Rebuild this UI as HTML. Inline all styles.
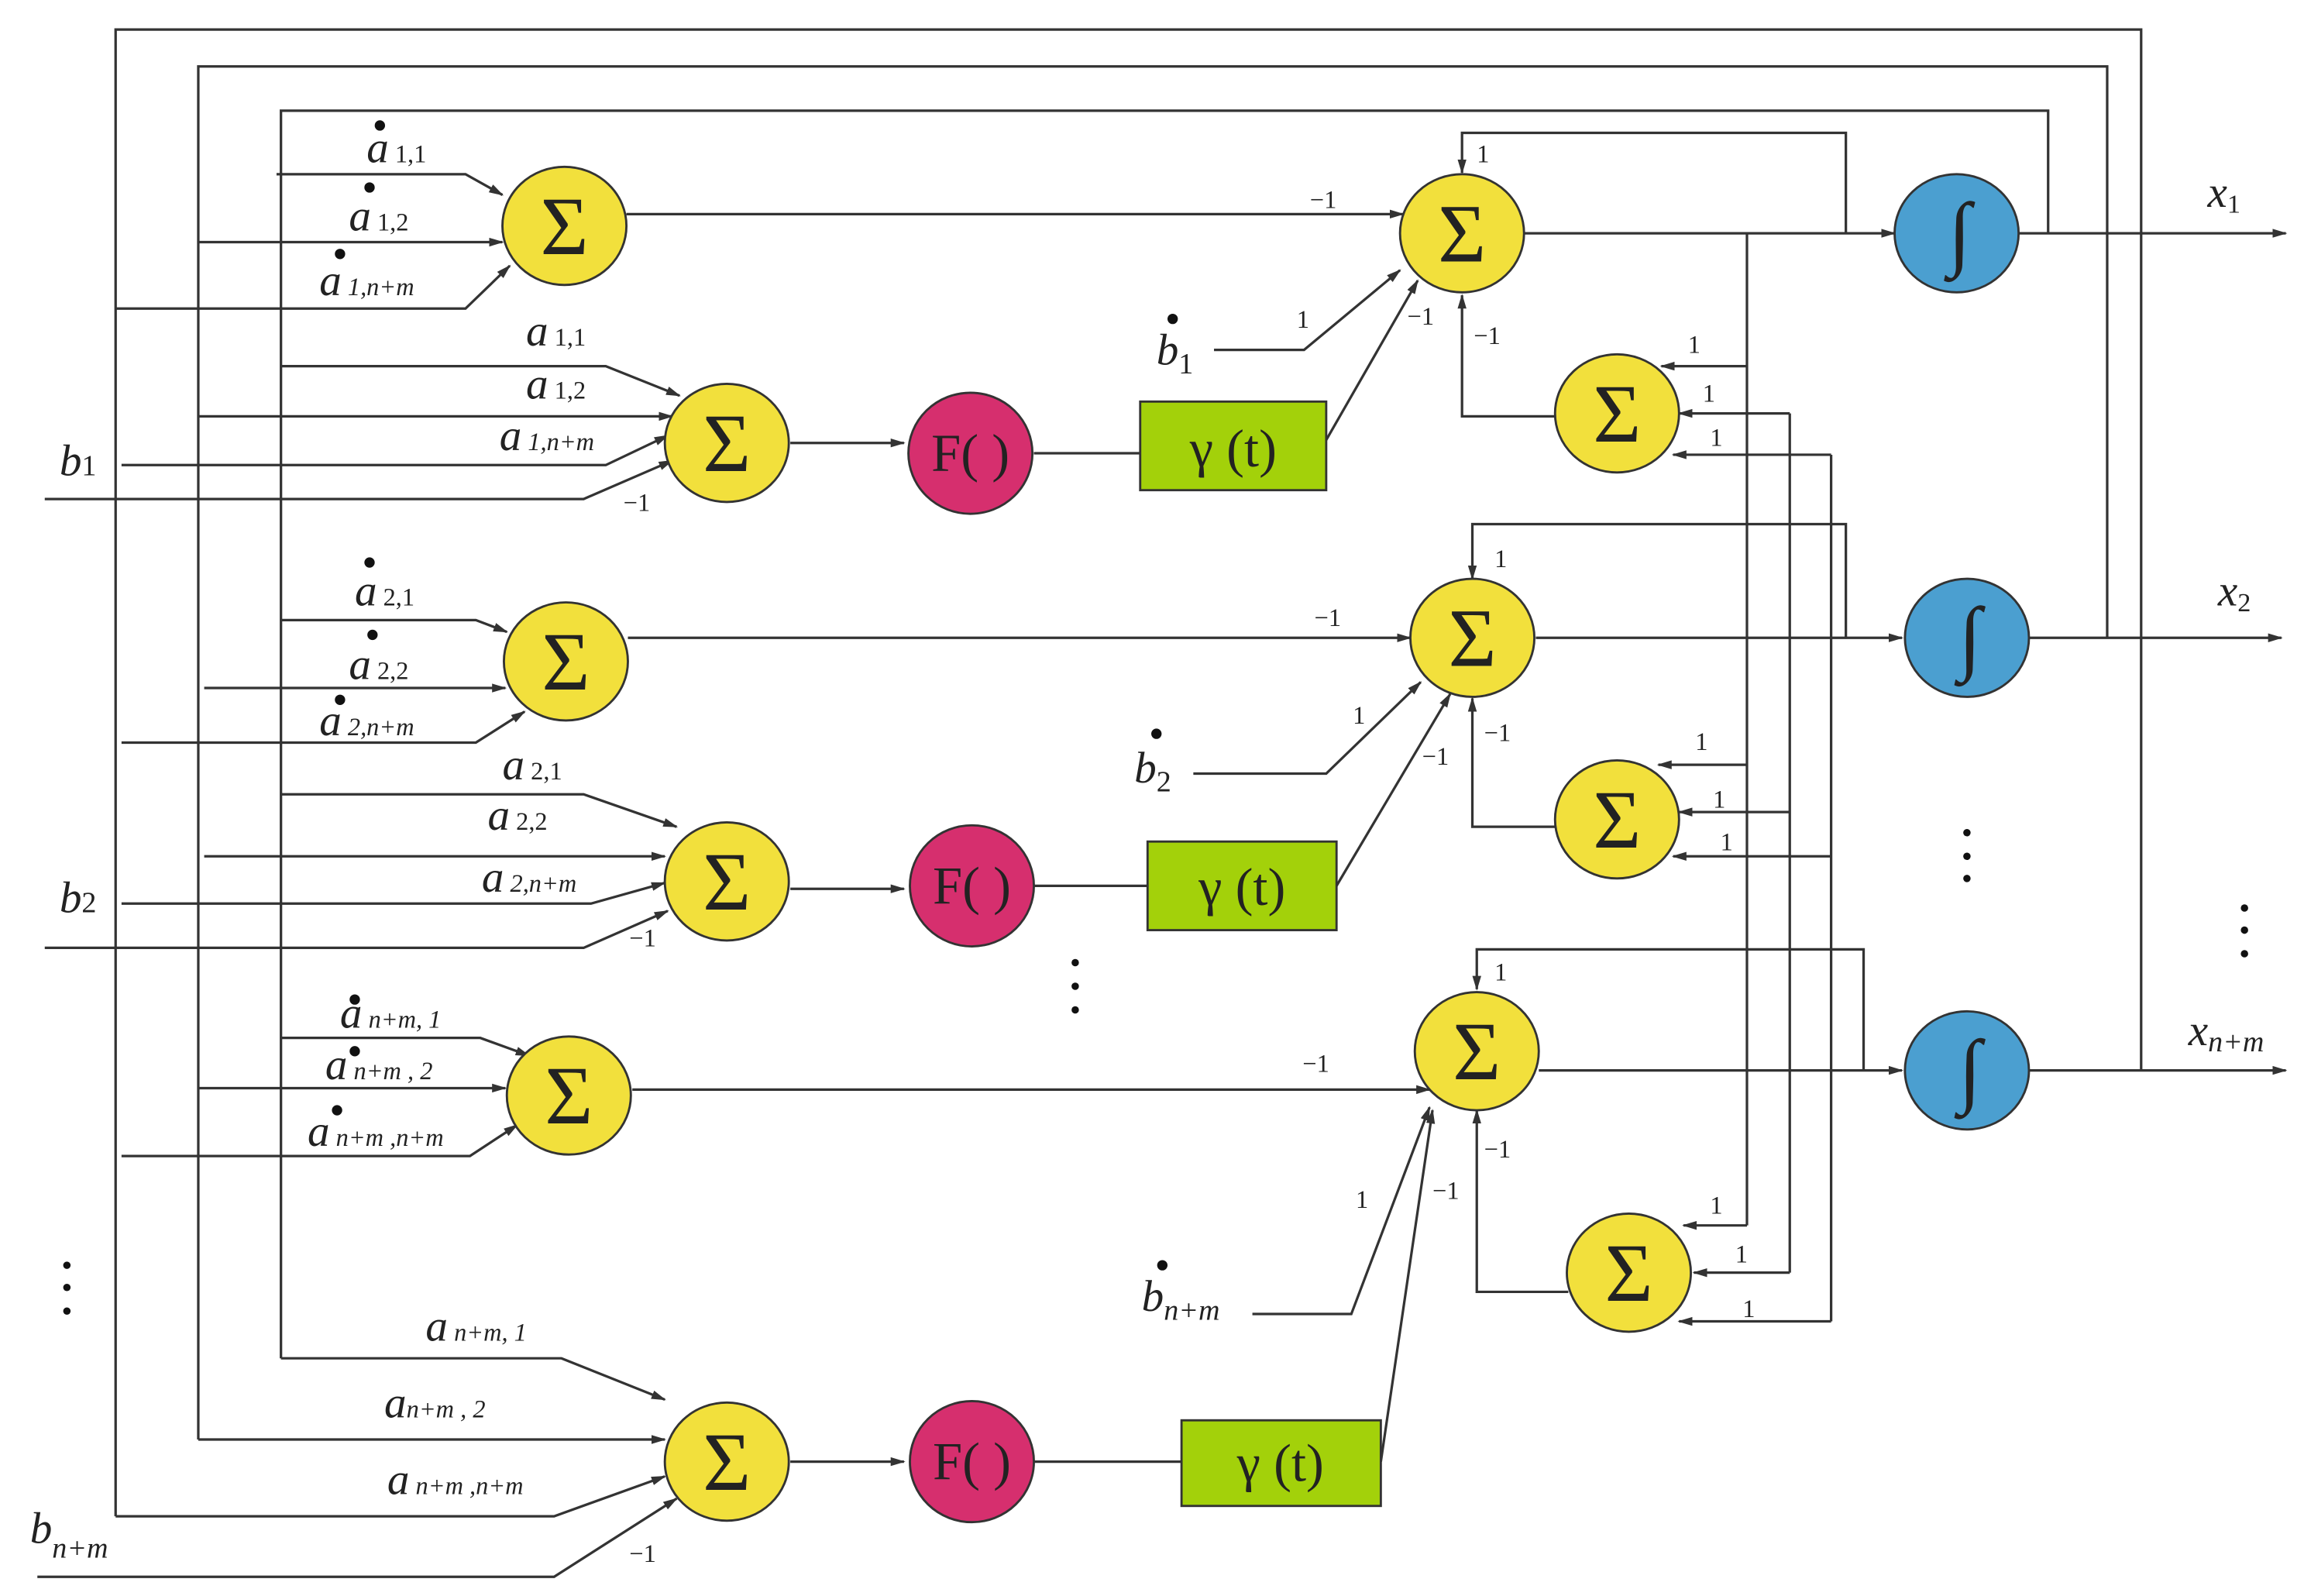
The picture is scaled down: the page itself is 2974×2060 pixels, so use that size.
<!DOCTYPE html>
<html><head><meta charset="utf-8"><style>
html,body{margin:0;padding:0;background:#fff}
svg{display:block}
text{font-family:"Liberation Serif",serif;fill:#222}
.i{font-style:italic}
</style></head><body>
<svg width="2974" height="2060" viewBox="0 0 1560 1081" xmlns="http://www.w3.org/2000/svg">
<defs><marker id="a" markerWidth="10" markerHeight="8" refX="9" refY="4" orient="auto" markerUnits="userSpaceOnUse"><path d="M0,1 L10,4 L0,7 Z" fill="#333"/></marker></defs>
<g fill="none" stroke="#333" stroke-width="1.7">
<!-- buses -->
<polyline points="78,1027 78,20 1450,20 1450,725"/>
<polyline points="134,975 134,45 1427,45 1427,432"/>
<polyline points="190,920 190,75 1387,75 1387,158"/>
<!-- row1 dot sum -->
<polyline points="187,118 315,118 340,132" marker-end="url(#a)"/>
<line x1="134" y1="164" x2="340" y2="164" marker-end="url(#a)"/>
<polyline points="78,209 315,209 345,180" marker-end="url(#a)"/>
<line x1="424" y1="145" x2="950" y2="145" marker-end="url(#a)"/>
<!-- row1 sum -->
<polyline points="190,248 410,248 460,268" marker-end="url(#a)"/>
<line x1="134" y1="282" x2="455" y2="282" marker-end="url(#a)"/>
<polyline points="82,315 410,315 452,295" marker-end="url(#a)"/>
<polyline points="30,338 395,338 455,312" marker-end="url(#a)"/>
<line x1="535" y1="300" x2="612" y2="300" marker-end="url(#a)"/>
<line x1="700" y1="307" x2="772" y2="307"/>
<line x1="898" y1="298" x2="960" y2="190" marker-end="url(#a)"/>
<polyline points="822,237 883,237 948,183" marker-end="url(#a)"/>
<line x1="1032" y1="158" x2="1283" y2="158" marker-end="url(#a)"/>
<line x1="1367" y1="158" x2="1548" y2="158" marker-end="url(#a)"/>
<polyline points="1250,158 1250,90 990,90 990,117" marker-end="url(#a)"/>
<polyline points="1053,282 990,282 990,200" marker-end="url(#a)"/>
<line x1="1183" y1="158" x2="1183" y2="830"/>
<line x1="1212" y1="280" x2="1212" y2="862"/>
<line x1="1240" y1="308" x2="1240" y2="895"/>
<line x1="1183" y1="248" x2="1125" y2="248" marker-end="url(#a)"/>
<line x1="1212" y1="280" x2="1137" y2="280" marker-end="url(#a)"/>
<line x1="1240" y1="308" x2="1133" y2="308" marker-end="url(#a)"/>
<!-- row2 dot sum -->
<polyline points="190,420 322,420 343,428" marker-end="url(#a)"/>
<line x1="138" y1="466" x2="342" y2="466" marker-end="url(#a)"/>
<polyline points="82,503 322,503 355,482" marker-end="url(#a)"/>
<line x1="425" y1="432" x2="955" y2="432" marker-end="url(#a)"/>
<!-- row2 sum -->
<polyline points="190,538 395,538 458,560" marker-end="url(#a)"/>
<line x1="138" y1="580" x2="450" y2="580" marker-end="url(#a)"/>
<polyline points="82,612 400,612 450,598" marker-end="url(#a)"/>
<polyline points="30,642 395,642 452,617" marker-end="url(#a)"/>
<line x1="535" y1="602" x2="612" y2="602" marker-end="url(#a)"/>
<line x1="700" y1="600" x2="777" y2="600"/>
<line x1="905" y1="600" x2="982" y2="470" marker-end="url(#a)"/>
<polyline points="808,524 898,524 962,462" marker-end="url(#a)"/>
<line x1="1040" y1="432" x2="1288" y2="432" marker-end="url(#a)"/>
<line x1="1374" y1="432" x2="1545" y2="432" marker-end="url(#a)"/>
<polyline points="1250,432 1250,355 997,355 997,392" marker-end="url(#a)"/>
<polyline points="1053,560 997,560 997,473" marker-end="url(#a)"/>
<line x1="1183" y1="518" x2="1123" y2="518" marker-end="url(#a)"/>
<line x1="1212" y1="550" x2="1137" y2="550" marker-end="url(#a)"/>
<line x1="1240" y1="580" x2="1133" y2="580" marker-end="url(#a)"/>
<!-- row3 dot sum -->
<polyline points="190,703 325,703 358,715" marker-end="url(#a)"/>
<line x1="134" y1="737" x2="342" y2="737" marker-end="url(#a)"/>
<polyline points="82,783 318,783 350,762" marker-end="url(#a)"/>
<line x1="428" y1="738" x2="968" y2="738" marker-end="url(#a)"/>
<line x1="1042" y1="725" x2="1288" y2="725" marker-end="url(#a)"/>
<line x1="1374" y1="725" x2="1548" y2="725" marker-end="url(#a)"/>
<polyline points="1262,725 1262,643 1000,643 1000,670" marker-end="url(#a)"/>
<polyline points="1062,875 1000,875 1000,752" marker-end="url(#a)"/>
<line x1="1183" y1="830" x2="1140" y2="830" marker-end="url(#a)"/>
<line x1="1212" y1="862" x2="1147" y2="862" marker-end="url(#a)"/>
<line x1="1240" y1="895" x2="1137" y2="895" marker-end="url(#a)"/>
<polyline points="848,890 915,890 968,750" marker-end="url(#a)"/>
<!-- bottom sum -->
<polyline points="190,920 380,920 450,948" marker-end="url(#a)"/>
<line x1="134" y1="975" x2="450" y2="975" marker-end="url(#a)"/>
<polyline points="78,1027 375,1027 450,1000" marker-end="url(#a)"/>
<polyline points="25,1068 375,1068 458,1015" marker-end="url(#a)"/>
<line x1="535" y1="990" x2="612" y2="990" marker-end="url(#a)"/>
<line x1="700" y1="990" x2="800" y2="990"/>
<line x1="935" y1="990" x2="970" y2="752" marker-end="url(#a)"/>
</g>
<!-- nodes -->
<g stroke="#333" stroke-width="1.5">
<g fill="#f2e03c">
<ellipse cx="382" cy="153" rx="42" ry="40"/><ellipse cx="492" cy="300" rx="42" ry="40"/>
<ellipse cx="383" cy="448" rx="42" ry="40"/><ellipse cx="492" cy="597" rx="42" ry="40"/>
<ellipse cx="385" cy="742" rx="42" ry="40"/><ellipse cx="492" cy="990" rx="42" ry="40"/>
<ellipse cx="990" cy="158" rx="42" ry="40"/><ellipse cx="997" cy="432" rx="42" ry="40"/><ellipse cx="1000" cy="712" rx="42" ry="40"/>
<ellipse cx="1095" cy="280" rx="42" ry="40"/><ellipse cx="1095" cy="555" rx="42" ry="40"/><ellipse cx="1103" cy="862" rx="42" ry="40"/>
</g>
<g fill="#d62f6e"><ellipse cx="657" cy="307" rx="42" ry="41"/><ellipse cx="658" cy="600" rx="42" ry="41"/><ellipse cx="658" cy="990" rx="42" ry="41"/></g>
<g fill="#4b9fd0"><ellipse cx="1325" cy="158" rx="42" ry="40"/><ellipse cx="1332" cy="432" rx="42" ry="40"/><ellipse cx="1332" cy="725" rx="42" ry="40"/></g>
<g fill="#a3d10a"><rect x="772" y="272" width="126" height="60"/><rect x="777" y="570" width="128" height="60"/><rect x="800" y="962" width="135" height="58"/></g>
</g>
<g font-size="56" text-anchor="middle">
<text x="382" y="172">Σ</text><text x="492" y="319">Σ</text><text x="383" y="467">Σ</text><text x="492" y="616">Σ</text><text x="385" y="761">Σ</text><text x="492" y="1009">Σ</text>
<text x="990" y="177">Σ</text><text x="997" y="451">Σ</text><text x="1000" y="731">Σ</text><text x="1095" y="299">Σ</text><text x="1095" y="574">Σ</text><text x="1103" y="881">Σ</text>
<text x="1327" y="176">∫</text><text x="1334" y="450">∫</text><text x="1334" y="743">∫</text>
</g>
<g font-size="36" text-anchor="middle">
<text x="657" y="319">F( )</text><text x="658" y="612">F( )</text><text x="658" y="1002">F( )</text>
<text x="835" y="316">γ (t)</text><text x="841" y="613">γ (t)</text><text x="867" y="1003">γ (t)</text>
</g>
<!-- labels -->
<g font-size="30">
<text x="248" y="110" class="i">a<tspan font-size="17" font-style="normal"> 1,1</tspan></text>
<text x="236" y="156" class="i">a<tspan font-size="17" font-style="normal"> 1,2</tspan></text>
<text x="216" y="200" class="i">a<tspan font-size="17"> 1,n+m</tspan></text>
<text x="356" y="234" class="i">a<tspan font-size="17" font-style="normal"> 1,1</tspan></text>
<text x="356" y="270" class="i">a<tspan font-size="17" font-style="normal"> 1,2</tspan></text>
<text x="338" y="305" class="i">a<tspan font-size="17"> 1,n+m</tspan></text>
<text x="40" y="322" class="i">b<tspan font-size="20" font-style="normal">1</tspan></text>
<text x="240" y="410" class="i">a<tspan font-size="17" font-style="normal"> 2,1</tspan></text>
<text x="236" y="460" class="i">a<tspan font-size="17" font-style="normal"> 2,2</tspan></text>
<text x="216" y="498" class="i">a<tspan font-size="17"> 2,n+m</tspan></text>
<text x="340" y="528" class="i">a<tspan font-size="17" font-style="normal"> 2,1</tspan></text>
<text x="330" y="562" class="i">a<tspan font-size="17" font-style="normal"> 2,2</tspan></text>
<text x="326" y="604" class="i">a<tspan font-size="17"> 2,n+m</tspan></text>
<text x="40" y="618" class="i">b<tspan font-size="20" font-style="normal">2</tspan></text>
<text x="230" y="696" class="i">a<tspan font-size="17"> n+m, 1</tspan></text>
<text x="220" y="731" class="i">a<tspan font-size="17"> n+m , 2</tspan></text>
<text x="208" y="776" class="i">a<tspan font-size="17"> n+m ,n+m</tspan></text>
<text x="288" y="908" class="i">a<tspan font-size="17"> n+m, 1</tspan></text>
<text x="260" y="960" class="i">a<tspan font-size="17">n+m , 2</tspan></text>
<text x="262" y="1012" class="i">a<tspan font-size="17"> n+m ,n+m</tspan></text>
<text x="20" y="1045" class="i">b<tspan font-size="20" dy="10">n+m</tspan></text>
<text x="783" y="247" class="i">b<tspan font-size="20" font-style="normal" dy="6">1</tspan></text>
<text x="768" y="530" class="i">b<tspan font-size="20" font-style="normal" dy="6">2</tspan></text>
<text x="773" y="888" class="i">b<tspan font-size="20" dy="6">n+m</tspan></text>
<text x="1495" y="140" class="i">x<tspan font-size="18" font-style="normal" dy="4">1</tspan></text>
<text x="1502" y="410" class="i">x<tspan font-size="18" font-style="normal" dy="4">2</tspan></text>
<text x="1482" y="708" class="i">x<tspan font-size="20" dy="4">n+m</tspan></text>
</g>
<!-- dots over a/b -->
<g fill="#111">
<circle cx="257" cy="85" r="3.5"/><circle cx="250" cy="127" r="3.5"/><circle cx="230" cy="172" r="3.5"/>
<circle cx="250" cy="381" r="3.5"/><circle cx="252" cy="430" r="3.5"/><circle cx="230" cy="474" r="3.5"/>
<circle cx="240" cy="677" r="3.5"/><circle cx="240" cy="712" r="3.5"/><circle cx="228" cy="752" r="3.5"/>
<circle cx="794" cy="216" r="3.5"/><circle cx="783" cy="497" r="3.5"/><circle cx="787" cy="857" r="3.5"/>
<circle cx="45" cy="857" r="2.5"/><circle cx="45" cy="872" r="2.5"/><circle cx="45" cy="888" r="2.5"/>
<circle cx="728" cy="652" r="2.5"/><circle cx="728" cy="668" r="2.5"/><circle cx="728" cy="684" r="2.5"/>
<circle cx="1332" cy="564" r="2.5"/><circle cx="1332" cy="580" r="2.5"/><circle cx="1332" cy="595" r="2.5"/>
<circle cx="1520" cy="615" r="2.5"/><circle cx="1520" cy="630" r="2.5"/><circle cx="1520" cy="646" r="2.5"/>
</g>
<!-- weights -->
<g font-size="17">
<text x="887" y="141">−1</text><text x="422" y="346">−1</text><text x="878" y="222">1</text><text x="1000" y="110">1</text>
<text x="953" y="220">−1</text><text x="998" y="233">−1</text><text x="1143" y="239">1</text><text x="1153" y="272">1</text><text x="1158" y="302">1</text>
<text x="890" y="424">−1</text><text x="426" y="641">−1</text><text x="916" y="490">1</text><text x="1012" y="384">1</text>
<text x="963" y="518">−1</text><text x="1005" y="502">−1</text><text x="1148" y="508">1</text><text x="1160" y="547">1</text><text x="1165" y="576">1</text>
<text x="882" y="726">−1</text><text x="1012" y="664">1</text><text x="1005" y="784">−1</text><text x="970" y="812">−1</text><text x="918" y="818">1</text>
<text x="1158" y="822">1</text><text x="1175" y="855">1</text><text x="1180" y="892">1</text><text x="426" y="1058">−1</text>
</g>
</svg>
</body></html>
